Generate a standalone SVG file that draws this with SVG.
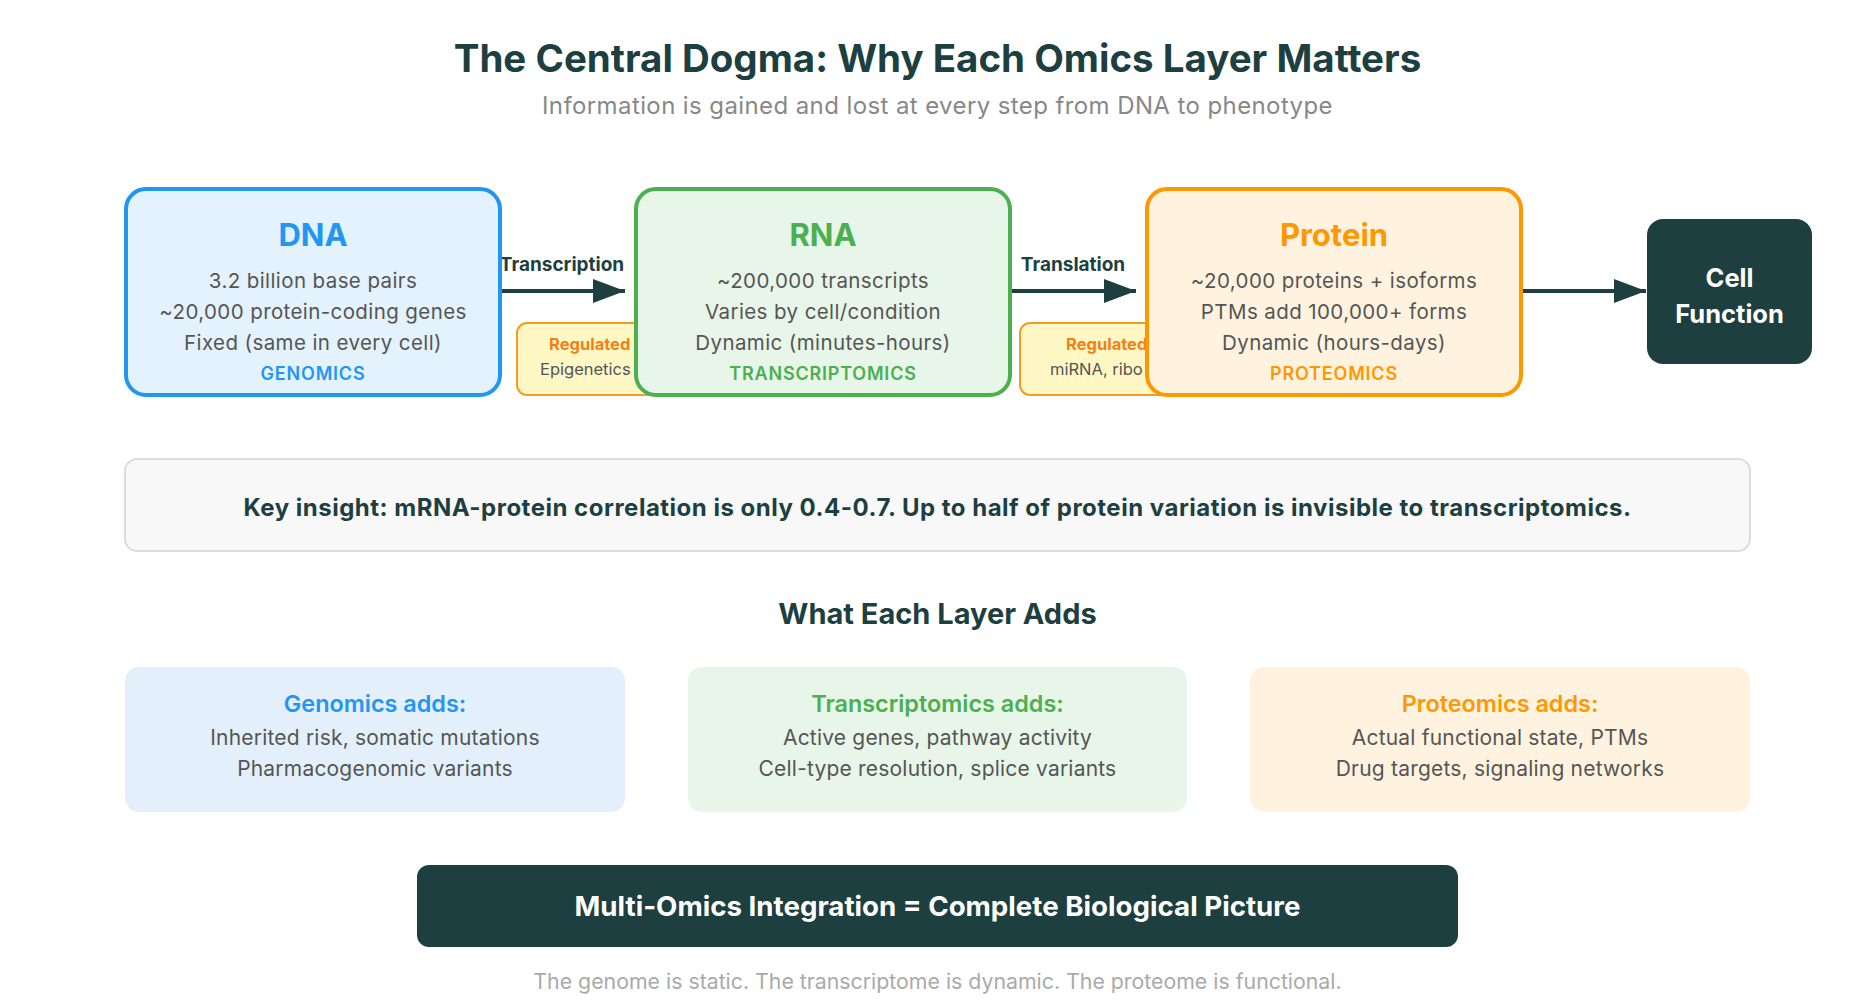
<svg xmlns="http://www.w3.org/2000/svg" width="1875" height="1000" viewBox="0 0 1875 1000">
<style>
text{font-family:Inter,"Noto Sans","Liberation Sans",sans-serif;text-anchor:middle}
.title{font-size:38.5px;font-weight:700;fill:#1d3f3f}
.sub{font-size:24px;fill:#888;letter-spacing:0.4px}
.head{font-size:31px;font-weight:700}
.body{font-size:20.5px;fill:#555;letter-spacing:0.4px}
.tag{font-size:18px;font-weight:600;letter-spacing:0.8px}
.lbl{font-size:19px;font-weight:700;fill:#1d3f3f}
.reg{font-size:16.5px;font-weight:700;fill:#f57f17;text-anchor:start}
.regb{font-size:16.5px;fill:#555;text-anchor:start}
.conn{stroke:#1d3f3f;stroke-width:4;fill:none}
.add{font-size:23.4px;font-weight:600}
.addb{font-size:21px;fill:#555;letter-spacing:0.2px}
</style>
<defs>
<marker id="ah" markerUnits="userSpaceOnUse" markerWidth="34" markerHeight="26" refX="32" refY="12" orient="auto">
<path d="M0,0 L32,12 L0,24 Z" fill="#1d3f3f"/>
</marker>
</defs>
<rect width="1875" height="1000" fill="#fff"/>
<text class="title" x="937.5" y="72">The Central Dogma: Why Each Omics Layer Matters</text>
<text class="sub" x="937.5" y="114">Information is gained and lost at every step from DNA to phenotype</text>

<g id="reg1">
<rect x="517" y="323" width="160" height="72" rx="10" fill="#fff8c5" stroke="#f59a23" stroke-width="2"/>
<text class="reg" x="549" y="350">Regulated</text>
<text class="regb" x="540" y="375">Epigenetics</text>
</g>
<g id="reg2">
<rect x="1020" y="323" width="160" height="72" rx="10" fill="#fff8c5" stroke="#f59a23" stroke-width="2"/>
<text class="reg" x="1066" y="350">Regulated</text>
<text class="regb" x="1050" y="375">miRNA, ribo</text>
</g>

<g id="connectors">
<line class="conn" x1="500" y1="291" x2="625" y2="291" marker-end="url(#ah)"/>
<line class="conn" x1="1010" y1="291" x2="1136" y2="291" marker-end="url(#ah)"/>
<line class="conn" x1="1521" y1="291" x2="1646" y2="291" marker-end="url(#ah)"/>
<text class="lbl" x="562" y="271">Transcription</text>
<text class="lbl" x="1073" y="271">Translation</text>
</g>

<g id="dna">
<rect x="126" y="189" width="374" height="206" rx="20" fill="#e3f2fd" stroke="#2196f3" stroke-width="4"/>
<text class="head" x="313" y="246" fill="#2196f3">DNA</text>
<text class="body" x="313" y="288">3.2 billion base pairs</text>
<text class="body" x="313" y="319">~20,000 protein-coding genes</text>
<text class="body" x="313" y="350">Fixed (same in every cell)</text>
<text class="tag" x="313" y="380" fill="#2196f3">GENOMICS</text>
</g>
<g id="rna">
<rect x="636" y="189" width="374" height="206" rx="20" fill="#e8f5e9" stroke="#4caf50" stroke-width="4"/>
<text class="head" x="823" y="246" fill="#4caf50">RNA</text>
<text class="body" x="823" y="288">~200,000 transcripts</text>
<text class="body" x="823" y="319">Varies by cell/condition</text>
<text class="body" x="823" y="350">Dynamic (minutes-hours)</text>
<text class="tag" x="823" y="380" fill="#4caf50">TRANSCRIPTOMICS</text>
</g>
<g id="protein">
<rect x="1147" y="189" width="374" height="206" rx="20" fill="#fff3e0" stroke="#ff9800" stroke-width="4"/>
<text class="head" x="1334" y="246" fill="#ff9800">Protein</text>
<text class="body" x="1334" y="288">~20,000 proteins + isoforms</text>
<text class="body" x="1334" y="319">PTMs add 100,000+ forms</text>
<text class="body" x="1334" y="350">Dynamic (hours-days)</text>
<text class="tag" x="1334" y="380" fill="#ff9800">PROTEOMICS</text>
</g>
<g id="cell">
<rect x="1647" y="219" width="165" height="145" rx="16" fill="#1d3f3f"/>
<text x="1729.5" y="287" font-size="25.5" font-weight="700" fill="#fff">Cell</text>
<text x="1729.5" y="323" font-size="25.5" font-weight="700" fill="#fff">Function</text>
</g>

<g id="insight">
<rect x="125" y="459" width="1625" height="92" rx="12" fill="#f8f8f8" stroke="#dcdcdc" stroke-width="2"/>
<text x="937.5" y="516" font-size="24" font-weight="700" fill="#1d3f3f" letter-spacing="0.5">Key insight: mRNA-protein correlation is only 0.4-0.7. Up to half of protein variation is invisible to transcriptomics.</text>
</g>

<text x="937.5" y="624" font-size="29" font-weight="700" fill="#1d3f3f">What Each Layer Adds</text>

<g id="genomics-adds">
<rect x="125" y="667" width="500" height="145" rx="14" fill="#e3f0fc"/>
<text class="add" x="375" y="712" fill="#2196f3">Genomics adds:</text>
<text class="addb" x="375" y="745">Inherited risk, somatic mutations</text>
<text class="addb" x="375" y="776">Pharmacogenomic variants</text>
</g>
<g id="transcriptomics-adds">
<rect x="688" y="667" width="499" height="145" rx="14" fill="#e8f5e9"/>
<text class="add" x="937.5" y="712" fill="#4caf50">Transcriptomics adds:</text>
<text class="addb" x="937.5" y="745">Active genes, pathway activity</text>
<text class="addb" x="937.5" y="776">Cell-type resolution, splice variants</text>
</g>
<g id="proteomics-adds">
<rect x="1250" y="667" width="500" height="145" rx="14" fill="#fff3e0"/>
<text class="add" x="1500" y="712" fill="#ff9800">Proteomics adds:</text>
<text class="addb" x="1500" y="745">Actual functional state, PTMs</text>
<text class="addb" x="1500" y="776">Drug targets, signaling networks</text>
</g>

<g id="integration">
<rect x="417" y="865" width="1041" height="82" rx="12" fill="#1d3f3f"/>
<text x="937.5" y="916" font-size="27.7" font-weight="700" fill="#fff">Multi-Omics Integration = Complete Biological Picture</text>
</g>
<text x="937.5" y="989" font-size="21.3" fill="#aaa">The genome is static. The transcriptome is dynamic. The proteome is functional.</text>
</svg>
